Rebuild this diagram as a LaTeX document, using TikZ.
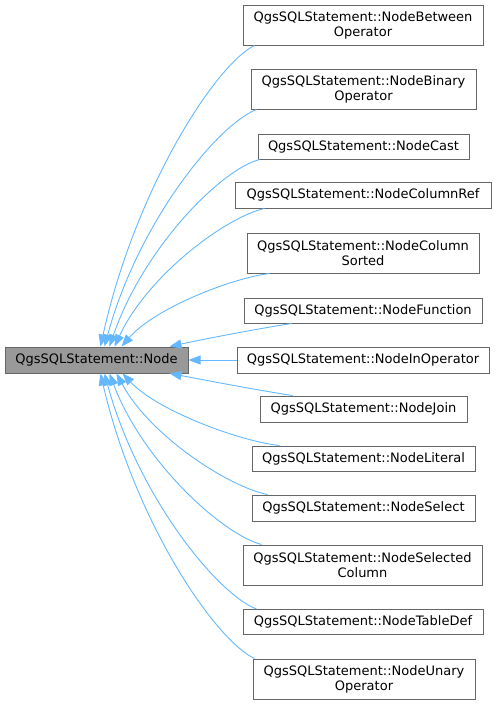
\documentclass[tikz,border=0pt]{standalone}
\usepackage{fontspec}
\setmainfont{DejaVu Sans}
\usetikzlibrary{arrows.meta}
\definecolor{edgeblue}{HTML}{63B8FF}
\definecolor{boxgray}{HTML}{666666}
\definecolor{mainfill}{HTML}{999999}
\tikzset{
  cls/.style={draw=boxgray, line width=1pt, rectangle, inner sep=0pt, align=center,
    font=\fontsize{13}{15}\selectfont, fill=white},
  basecls/.style={cls, fill=mainfill},
  inh/.style={draw=edgeblue, line width=0.9pt, -{Triangle[length=12pt,width=9pt]}, fill=none},
}
\begin{document}
\begin{tikzpicture}[x=1pt,y=-1pt]
\useasboundingbox (0,0) rectangle (496,705);
\node[basecls, minimum width=183, minimum height=26] (main) at (96.5,360) {QgsSQLStatement::Node};
\node[cls, minimum width=240, minimum height=40] (b1) at (363,25) {QgsSQLStatement::NodeBetween\\Operator};
\node[cls, minimum width=225, minimum height=40] (b2) at (363.5,89) {QgsSQLStatement::NodeBinary\\Operator};
\node[cls, minimum width=211, minimum height=25] (b3) at (363.5,146.5) {QgsSQLStatement::NodeCast};
\node[cls, minimum width=256, minimum height=26] (b4) at (363,195) {QgsSQLStatement::NodeColumnRef};
\node[cls, minimum width=232, minimum height=40] (b5) at (363,253) {QgsSQLStatement::NodeColumn\\Sorted};
\node[cls, minimum width=238, minimum height=25] (b6) at (363,310.5) {QgsSQLStatement::NodeFunction};
\node[cls, minimum width=252, minimum height=26] (b7) at (363,360) {QgsSQLStatement::NodeInOperator};
\node[cls, minimum width=207, minimum height=26] (b8) at (363.5,409) {QgsSQLStatement::NodeJoin};
\node[cls, minimum width=223, minimum height=25] (b9) at (363.5,458.5) {QgsSQLStatement::NodeLiteral};
\node[cls, minimum width=223, minimum height=26] (b10) at (363.5,508) {QgsSQLStatement::NodeSelect};
\node[cls, minimum width=239, minimum height=40] (b11) at (362.5,565) {QgsSQLStatement::NodeSelected\\Column};
\node[cls, minimum width=240, minimum height=25] (b12) at (363,622) {QgsSQLStatement::NodeTableDef};
\node[cls, minimum width=222, minimum height=40] (b13) at (364,679) {QgsSQLStatement::NodeUnary\\Operator};

\draw[inh] ([xshift=12]b1.south west) .. controls (215,65) and (135,190) .. ([xshift=96]main.north west);
\draw[inh] ([xshift=6]b2.south west) .. controls (217,125) and (138,223) .. ([xshift=100]main.north west);
\draw[inh] ([xshift=2]b3.south west) .. controls (220,170) and (143,249) .. ([xshift=105]main.north west);
\draw[inh] ([xshift=30]b4.south west) .. controls (226,217) and (148,275) .. ([xshift=110]main.north west);
\draw[inh] ([xshift=23]b5.south west) .. controls (232,278) and (155,308) .. ([xshift=117]main.north west);
\draw[inh] ([xshift=48]b6.south west) .. controls (250,330) and (200,340) .. ([xshift=165]main.north west);
\draw[inh] (b7.west) -- (main.east);
\draw[inh] ([xshift=33]b8.north west) .. controls (250,389) and (200,379) .. ([xshift=165]main.south west);
\draw[inh] ([xshift=28]b9.north west) .. controls (239,441) and (158,411) .. ([xshift=118]main.south west);
\draw[inh] ([xshift=16]b10.north west) .. controls (229,487) and (150,436) .. ([xshift=112]main.south west);
\draw[inh] ([xshift=19]b11.north west) .. controls (222,534) and (143,462) .. ([xshift=105]main.south west);
\draw[inh] ([xshift=14]b12.north west) .. controls (217,594) and (138,496) .. ([xshift=100]main.south west);
\draw[inh] ([xshift=2]b13.north west) .. controls (215,640) and (135,522) .. ([xshift=96]main.south west);
\end{tikzpicture}
\end{document}
